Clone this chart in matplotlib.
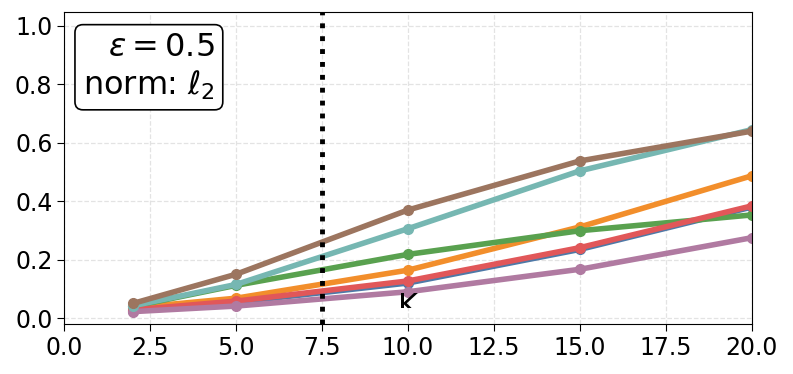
import matplotlib
matplotlib.use("Agg")
import matplotlib.pyplot as plt
from matplotlib.patches import Rectangle

k_values = [2, 5, 10, 15, 20]

series = {
    "blue": [0.025, 0.054, 0.120, 0.235, 0.380],
    "orange": [0.035, 0.068, 0.164, 0.312, 0.487],
    "green": [0.040, 0.112, 0.218, 0.299, 0.353],
    "red": [0.028, 0.058, 0.127, 0.241, 0.384],
    "purple": [0.022, 0.041, 0.090, 0.167, 0.275],
    "teal": [0.042, 0.115, 0.306, 0.504, 0.645],
    "brown": [0.050, 0.150, 0.370, 0.538, 0.640],
}
colors = {
    "blue": "#4e79a7",
    "orange": "#f28e2b",
    "green": "#59a14f",
    "red": "#e15759",
    "purple": "#b07aa1",
    "teal": "#76b7b2",
    "brown": "#9c755f",
}

fig, ax = plt.subplots(figsize=(7.93, 3.74), dpi=100)
fig.subplots_adjust(left=0.081, right=0.948, top=0.968, bottom=0.134)

for name, vals in series.items():
    ax.plot(k_values, vals, color=colors[name], lw=4, marker="o", ms=7)

ax.axvline(7.5, color="black", ls=":", lw=3.5)

ax.set_xlim(0, 20)
ax.set_ylim(-0.02, 1.048)
ax.set_xticks([0, 2.5, 5, 7.5, 10, 12.5, 15, 17.5, 20])
ax.set_yticks([0.0, 0.2, 0.4, 0.6, 0.8, 1.0])
ax.tick_params(labelsize=17, length=5)
ax.grid(True, ls="--", color="#dddddd", lw=0.9, alpha=0.8)

# x-label sits inside the axes, lower part hidden
k_txt = ax.text(10, 0.012, "K", fontsize=22, ha="center", va="baseline")
clip = Rectangle((8, 0.035), 4, 0.5, transform=ax.transData)
k_txt.set_clip_on(True)
k_txt.set_clip_path(clip)

ax.text(0.219, 0.935, "$\\varepsilon = 0.5$\nnorm: $\\ell_2$", transform=ax.transAxes,
        fontsize=23, ha="right", va="top", multialignment="right",
        bbox=dict(boxstyle="round,pad=0.25", fc="white", ec="black", lw=1.2))

fig.savefig("out.png", dpi=100)
